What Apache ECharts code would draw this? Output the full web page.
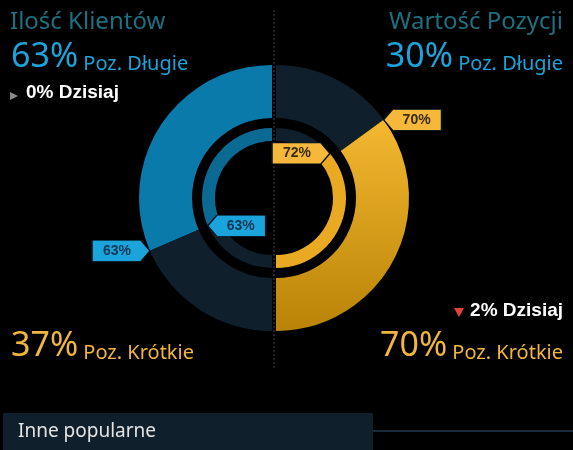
<!DOCTYPE html>
<html>
<head>
<meta charset="utf-8">
<script src="https://cdn.jsdelivr.net/npm/echarts@6/dist/echarts.min.js"></script>
<style>
html, body { margin: 0; background: #000; }
#main { width: 573px; height: 450px; }
</style>
</head>
<body>
<div id="main"></div>
<script>
// data
var categories = ['Poz. Długie', 'Poz. Krótkie'];
var leftOuter = [63, 37];   // Ilość Klientów
var leftInner = [63, 37];
var rightOuter = [30, 70];  // Wartość Pozycji
var rightInner = [28, 72];
var todayChange = [0, 2];   // Dzisiaj left / right

var myChart = echarts.init(document.getElementById('main'));

var FONT = 'Noto Sans';
var BLUE = '#1ba3dc', ORANGE = '#f2b63c', DARK = '#0f202c';
var cL = [272, 198], cR = [276, 198];
var outerR = [80, 133], innerR = [57, 70];

var orangeGrad = {
    type: 'linear', x: 0, y: 0, x2: 0, y2: 1,
    colorStops: [{ offset: 0, color: '#f4b830' }, { offset: 1, color: '#b98307' }]
};

function halfPie(center, radius, clockwise, values, colors) {
    return {
        type: 'pie',
        silent: true,
        center: center,
        radius: radius,
        startAngle: 90,
        endAngle: clockwise ? -90 : 270,
        clockwise: clockwise,
        label: { show: false },
        labelLine: { show: false },
        itemStyle: { borderWidth: 0 },
        data: values.map(function (v, i) {
            return { value: v, name: categories[i], itemStyle: { color: colors[i] } };
        })
    };
}

// callout shapes
var tipRight = 'path://M0,0 L49,0 L58,10.5 L49,21 L0,21 Z';
var tipLeft = 'path://M9,0 L58,0 L58,21 L9,21 L0,10.5 Z';

function callout(r, a, text, right, bg, fg) {
    return {
        value: [r, a],
        symbol: right ? tipRight : tipLeft,
        symbolSize: [58, 21],
        symbolOffset: [right ? -29 : 29, 0],
        itemStyle: { color: bg, borderColor: '#06131c', borderWidth: 1, opacity: 1 },
        label: {
            show: true, position: 'inside', formatter: text,
            color: fg, fontSize: 14, fontFamily: 'Liberation Sans', fontWeight: 'bold',
            offset: [right ? -4 : 4, 0]
        }
    };
}

function hiddenAxes(i, clockwise) {
    return {
        angle: {
            polarIndex: i, type: 'value', min: 0, max: 200, startAngle: 90, clockwise: clockwise,
            axisLine: { show: false }, axisTick: { show: false }, axisLabel: { show: false }, splitLine: { show: false }
        },
        radius: {
            polarIndex: i, type: 'value', min: 0, max: outerR[1],
            axisLine: { show: false }, axisTick: { show: false }, axisLabel: { show: false }, splitLine: { show: false }
        }
    };
}
var axL = hiddenAxes(0, false), axR = hiddenAxes(1, true);

function rich(a, b, color) {
    return {
        text: '{a|' + a + '}{b| ' + b + '}',
        padding: 0,
        textStyle: {
            rich: {
                a: { fontSize: 34, color: color, fontFamily: FONT, fontWeight: 'normal', verticalAlign: 'bottom', lineHeight: 42 },
                b: { fontSize: 20, color: color, fontFamily: FONT, fontWeight: 'normal', verticalAlign: 'bottom', lineHeight: 32 }
            }
        }
    };
}

var t1 = rich(leftOuter[0] + '%', categories[0], BLUE);
t1.left = 11; t1.top = 32;
var t2 = rich(rightOuter[0] + '%', categories[0], BLUE);
t2.right = 10; t2.top = 32;
var t3 = rich(leftOuter[1] + '%', categories[1], ORANGE);
t3.left = 11; t3.top = 321;
var t4 = rich(rightOuter[1] + '%', categories[1], ORANGE);
t4.right = 10; t4.top = 321;

var head = { color: '#1e6f80', fontSize: 24, fontFamily: FONT, fontWeight: 'normal' };
var today = { color: '#ffffff', fontSize: 19, fontFamily: 'Liberation Sans', fontWeight: 'bold' };

option = {
    backgroundColor: '#000',
    animation: false,
    title: [
        { text: 'Ilość Klientów', left: 10, top: 10, padding: 0, textStyle: head },
        { text: 'Wartość Pozycji', right: 10, top: 10, padding: 0, textStyle: head },
        t1, t2, t3, t4,
        { text: todayChange[0] + '% Dzisiaj', left: 26, top: 83, padding: 0, textStyle: today },
        { text: todayChange[1] + '% Dzisiaj', right: 10, top: 301, padding: 0, textStyle: today },
        { text: 'Inne popularne', left: 18, top: 422, padding: 0,
          textStyle: { color: '#e4e4e4', fontSize: 19, fontFamily: FONT, fontWeight: 'normal' } }
    ],
    polar: [
        { center: cL, radius: outerR[1] },
        { center: cR, radius: outerR[1] }
    ],
    angleAxis: [axL.angle, axR.angle],
    radiusAxis: [axL.radius, axR.radius],
    graphic: [
        { type: 'line', silent: true, shape: { x1: 274, y1: 10, x2: 274, y2: 368 },
          style: { stroke: '#3b4650', lineWidth: 1, lineDash: [2, 2] } },
        { type: 'polygon', silent: true, shape: { points: [[10, 92], [18, 96], [10, 100]] }, style: { fill: '#8a8a8a' } },
        { type: 'polygon', silent: true, shape: { points: [[454, 308], [464, 308], [459, 317]] }, style: { fill: '#e8403a' } },
        { type: 'rect', silent: true, shape: { x: 3, y: 413, width: 370, height: 37 }, style: { fill: '#0f1f2b' } },
        { type: 'rect', silent: true, shape: { x: 373, y: 430, width: 200, height: 2 }, style: { fill: '#17283a' } }
    ],
    series: [
        halfPie(cL, outerR, false, leftOuter, ['#0a7aab', DARK]),
        halfPie(cL, innerR, false, leftInner, ['#0a6a94', DARK]),
        halfPie(cR, outerR, true, rightOuter, [DARK, orangeGrad]),
        halfPie(cR, innerR, true, rightInner, [DARK, '#eaa923']),
        {
            type: 'scatter', coordinateSystem: 'polar', polarIndex: 0, silent: true, z: 5,
            data: [
                callout(outerR[1], leftOuter[0], leftOuter[0] + '%', true, BLUE, '#0b3956'),
                callout(innerR[1], leftInner[0], leftInner[0] + '%', false, BLUE, '#0b3956')
            ]
        },
        {
            type: 'scatter', coordinateSystem: 'polar', polarIndex: 1, silent: true, z: 5,
            data: [
                callout(outerR[1], rightOuter[0], rightOuter[1] + '%', false, '#f5b83a', '#3a2b05'),
                callout(innerR[1], rightInner[0], rightInner[1] + '%', true, '#f5b83a', '#3a2b05')
            ]
        }
    ]
};

myChart.setOption(option);
</script>
</body>
</html>
